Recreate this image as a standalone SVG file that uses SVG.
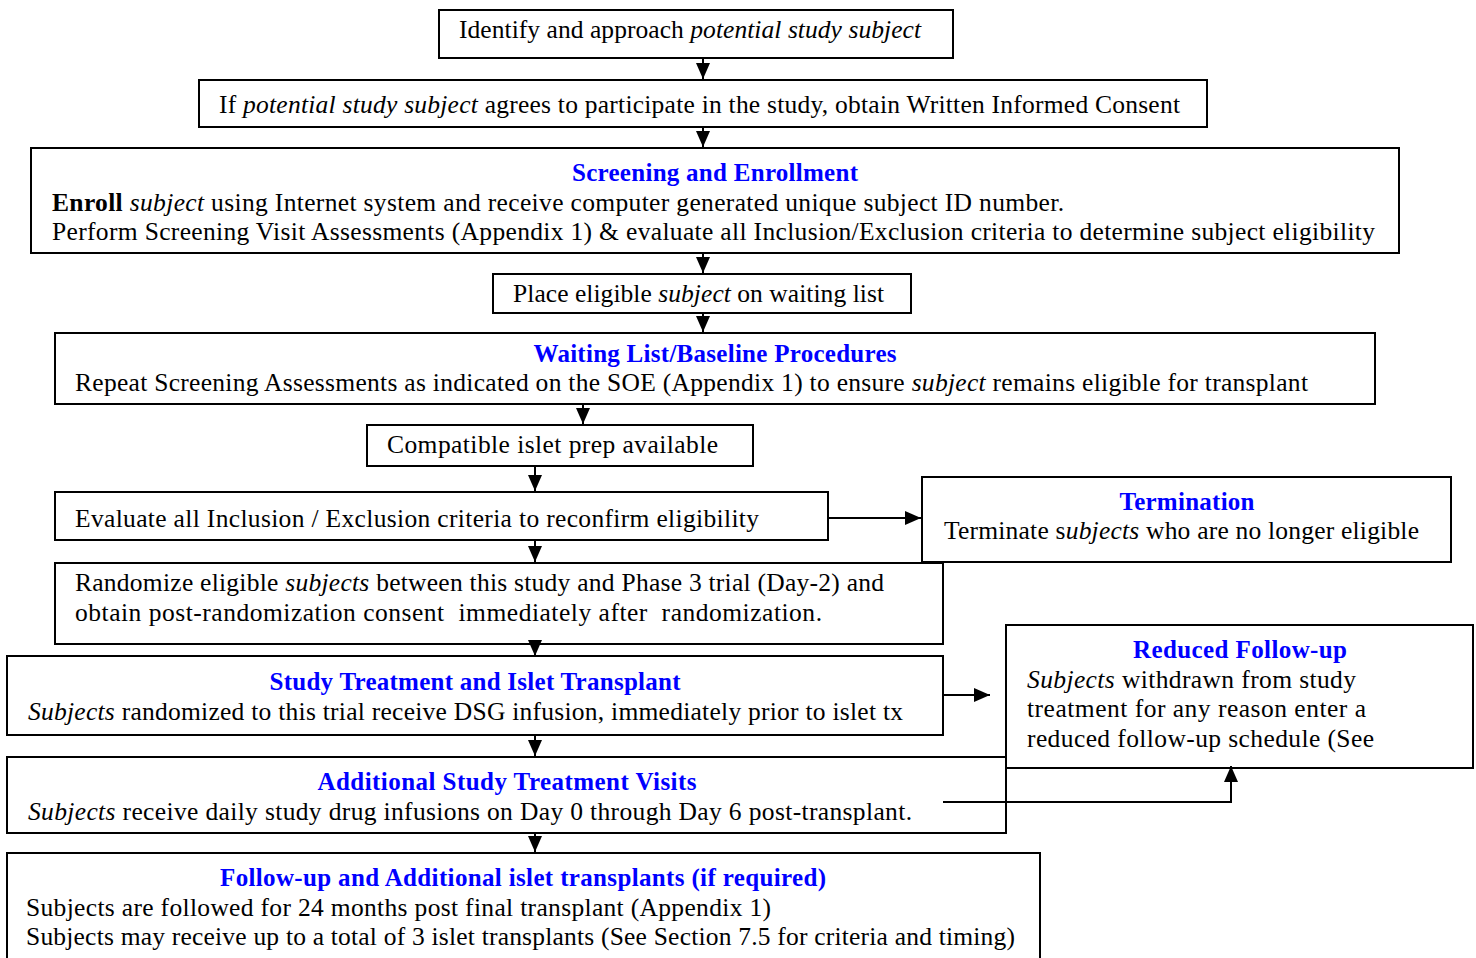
<svg xmlns="http://www.w3.org/2000/svg" width="1476" height="958" viewBox="0 0 1476 958">
<defs>
<style>
.box{fill:#fff;stroke:#000;stroke-width:2}
.t{font-family:"Liberation Serif","Times New Roman",serif;font-size:25.5px;fill:#000}
.h{font-family:"Liberation Serif","Times New Roman",serif;font-size:25px;font-weight:bold;fill:#0000ff}
.i{font-style:italic}
.b{font-weight:bold}
.c{fill:none;stroke:#000;stroke-width:2}
.pre{white-space:pre}
</style>
<marker id="ah" viewBox="0 0 16 14" refX="16" refY="7" markerWidth="16" markerHeight="14" markerUnits="userSpaceOnUse" orient="auto">
<path d="M0,0 L16,7 L0,14 Z" fill="#000"/>
</marker>
</defs>
<rect width="1476" height="958" fill="#fff"/>

<g id="n1"><rect class="box" x="439" y="10" width="514" height="48"/>
<text class="t" x="459" y="38" textLength="462" lengthAdjust="spacing">Identify and approach <tspan class="i">potential study subject</tspan></text></g>

<g id="n2"><rect class="box" x="199" y="80" width="1008" height="47"/>
<text class="t" x="219" y="113" textLength="961" lengthAdjust="spacing">If <tspan class="i">potential study subject</tspan> agrees to participate in the study, obtain Written Informed Consent</text></g>

<g id="n3"><rect class="box" x="31" y="148" width="1368" height="105"/>
<text class="h" x="715" y="181" text-anchor="middle" textLength="286" lengthAdjust="spacing">Screening and Enrollment</text>
<text class="t" x="52" y="211" textLength="1012" lengthAdjust="spacing"><tspan class="b">Enroll</tspan> <tspan class="i">subject</tspan> using Internet system and receive computer generated unique subject ID number.</text>
<text class="t" x="52" y="240" textLength="1323" lengthAdjust="spacing">Perform Screening Visit Assessments (Appendix 1) &amp; evaluate all Inclusion/Exclusion criteria to determine subject eligibility</text></g>

<g id="n4"><rect class="box" x="493" y="274" width="418" height="39"/>
<text class="t" x="513" y="302" textLength="371" lengthAdjust="spacing">Place eligible <tspan class="i">subject</tspan> on waiting list</text></g>

<g id="n5"><rect class="box" x="55" y="333" width="1320" height="71"/>
<text class="h" x="715" y="362" text-anchor="middle" textLength="363" lengthAdjust="spacing">Waiting List/Baseline Procedures</text>
<text class="t" x="75" y="391" textLength="1233" lengthAdjust="spacing">Repeat Screening Assessments as indicated on the SOE (Appendix 1) to ensure <tspan class="i">subject</tspan> remains eligible for transplant</text></g>

<g id="n6"><rect class="box" x="367" y="425" width="386" height="41"/>
<text class="t" x="387" y="453" textLength="331" lengthAdjust="spacing">Compatible islet prep available</text></g>

<g id="n7"><rect class="box" x="55" y="492" width="773" height="48"/>
<text class="t" x="75" y="527" textLength="684" lengthAdjust="spacing">Evaluate all Inclusion / Exclusion criteria to reconfirm eligibility</text></g>

<g id="n8"><rect class="box" x="922" y="477" width="529" height="85"/>
<text class="h" x="1187" y="510" text-anchor="middle" textLength="135" lengthAdjust="spacing">Termination</text>
<text class="t" x="944" y="539" textLength="475" lengthAdjust="spacing">Terminate s<tspan class="i">ubjects</tspan> who are no longer eligible</text></g>

<g id="n9"><rect class="box" x="55" y="563" width="888" height="81"/>
<text class="t" x="75" y="591" textLength="809" lengthAdjust="spacing">Randomize eligible <tspan class="i">subjects</tspan> between this study and Phase 3 trial (Day-2) and</text>
<text class="t pre" x="75" y="621" textLength="747" lengthAdjust="spacing">obtain post-randomization consent  immediately after  randomization.</text></g>

<g id="n10"><rect class="box" x="7" y="656" width="936" height="79"/>
<text class="h" x="475" y="690" text-anchor="middle" textLength="411" lengthAdjust="spacing">Study Treatment and Islet Transplant</text>
<text class="t" x="28" y="720" textLength="875" lengthAdjust="spacing"><tspan class="i">Subjects</tspan> randomized to this trial receive DSG infusion, immediately prior to islet tx</text></g>

<g id="n11"><rect class="box" x="7" y="757" width="999" height="76"/>
<text class="h" x="507" y="790" text-anchor="middle" textLength="379" lengthAdjust="spacing">Additional Study Treatment Visits</text>
<text class="t" x="28" y="820" textLength="884" lengthAdjust="spacing"><tspan class="i">Subjects</tspan> receive daily study drug infusions on Day 0 through Day 6 post-transplant.</text></g>

<g id="n12"><rect class="box" x="1006" y="625" width="467" height="143"/>
<text class="h" x="1240" y="658" text-anchor="middle" textLength="214" lengthAdjust="spacing">Reduced Follow-up</text>
<text class="t" x="1027" y="688" textLength="329" lengthAdjust="spacing"><tspan class="i">Subjects</tspan> withdrawn from study</text>
<text class="t" x="1027" y="717" textLength="339" lengthAdjust="spacing">treatment for any reason enter a</text>
<text class="t" x="1027" y="747" textLength="347" lengthAdjust="spacing">reduced follow-up schedule (See</text></g>

<g id="n13"><rect class="box" x="7" y="853" width="1033" height="110"/>
<text class="h" x="523" y="886" text-anchor="middle" textLength="606" lengthAdjust="spacing">Follow-up and Additional islet transplants (if required)</text>
<text class="t" x="26" y="916" textLength="745" lengthAdjust="spacing">Subjects are followed for 24 months post final transplant (Appendix 1)</text>
<text class="t" x="26" y="945" textLength="989" lengthAdjust="spacing">Subjects may receive up to a total of 3 islet transplants (See Section 7.5 for criteria and timing)</text></g>

<g id="connectors">
<line class="c" x1="703" y1="58" x2="703" y2="79" marker-end="url(#ah)"/>
<line class="c" x1="703" y1="127" x2="703" y2="147" marker-end="url(#ah)"/>
<line class="c" x1="703" y1="253" x2="703" y2="273" marker-end="url(#ah)"/>
<line class="c" x1="703" y1="313" x2="703" y2="332" marker-end="url(#ah)"/>
<line class="c" x1="583" y1="404" x2="583" y2="424" marker-end="url(#ah)"/>
<line class="c" x1="535" y1="466" x2="535" y2="491" marker-end="url(#ah)"/>
<line class="c" x1="828" y1="518" x2="921" y2="518" marker-end="url(#ah)"/>
<line class="c" x1="535" y1="540" x2="535" y2="562" marker-end="url(#ah)"/>
<line class="c" x1="535" y1="644" x2="535" y2="656" marker-end="url(#ah)"/>
<line class="c" x1="943" y1="695" x2="990" y2="695" marker-end="url(#ah)"/>
<line class="c" x1="535" y1="735" x2="535" y2="756" marker-end="url(#ah)"/>
<line class="c" x1="535" y1="833" x2="535" y2="852" marker-end="url(#ah)"/>
<polyline class="c" points="943,802 1231,802 1231,766" marker-end="url(#ah)"/>
</g>
</svg>
